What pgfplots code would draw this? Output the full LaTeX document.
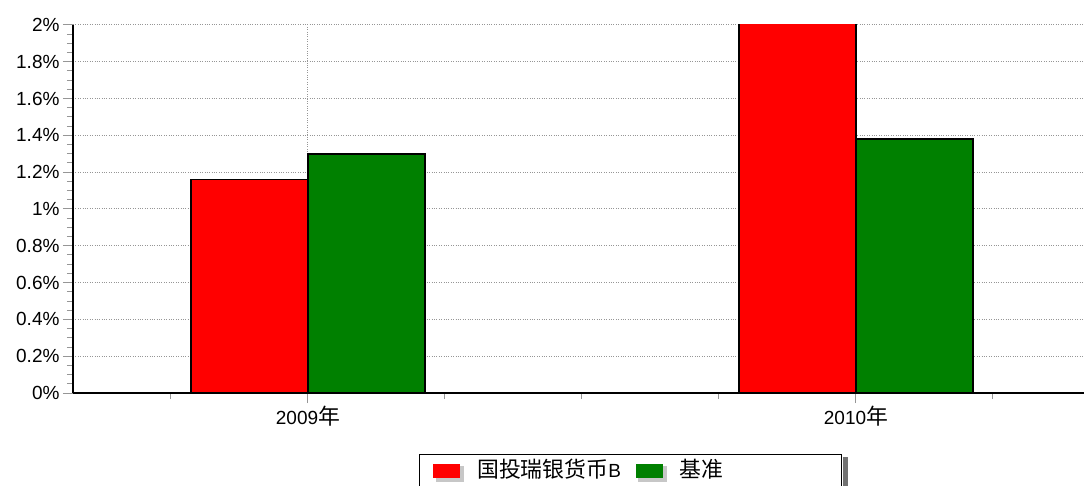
\documentclass[border=0pt]{standalone}
\usepackage{fontspec}
\setmainfont{Liberation Sans}
\newfontfamily\cjk[Scale=1.15]{Noto Sans CJK SC}
\usepackage{pgfplots}
\pgfplotsset{compat=1.18}
\definecolor{gridgray}{RGB}{150,150,150}
\definecolor{barred}{RGB}{255,0,0}
\definecolor{bargreen}{RGB}{0,128,0}
\begin{document}
\begin{tikzpicture}
\begin{axis}[
  at={(0,0)}, anchor=south west,
  scale only axis, width=1011bp, height=368bp,
  xmin=-0.4288, xmax=1.4161, ymin=0, ymax=2,
  axis x line*=bottom, axis y line*=left,
  axis line style={line width=2.8bp, black, -},
  ybar=0pt, bar width=117bp,
  xtick={0,1}, xticklabels={2009{\cjk 年},2010{\cjk 年}},
  minor xtick={-0.25,0.25,0.5,0.75,1.25},
  ytick={0,0.2,0.4,0.6,0.8,1,1.2,1.4,1.6,1.8,2},
  yticklabels={0\%,0.2\%,0.4\%,0.6\%,0.8\%,1\%,1.2\%,1.4\%,1.6\%,1.8\%,2\%},
  minor y tick num=3,
  tick align=outside,
  major tick length=10bp, minor tick length=6bp,
  tick style={gridgray, line width=1bp},
  xmajorgrids, ymajorgrids,
  major grid style={gridgray, dotted, line width=1bp},
  tick label style={font=\fontsize{19bp}{22bp}\selectfont},
  legend columns=2,
  legend style={at={(axis description cs:0.3422,-0.1658)}, anchor=north west,
    name=leg,
    draw=black, line width=1bp, fill=white,
    font=\fontsize{19bp}{22bp}\selectfont,
    inner xsep=14bp, inner ysep=4bp,
    nodes={inner sep=0pt, text height=19bp, text depth=20bp},
    column sep=13bp,
    /tikz/every even column/.append style={column sep=15bp}},
  legend image code/.code={%
    \fill[black!22] (3bp,-3bp) rectangle (30bp,11bp);
    \fill[#1, draw=none] (0bp,0bp) rectangle (27bp,14bp);},
]
\addplot[fill=barred, draw=black, line width=1.5bp] coordinates {(0,1.16) (1,2.02)};
\addlegendentry{{\cjk 国投瑞银货币}B}
\addplot[fill=bargreen, draw=black, line width=1.5bp] coordinates {(0,1.30) (1,1.38)};
\addlegendentry{\makebox[148bp][l]{\cjk 基准}}
\end{axis}
\fill[black!55] ([xshift=0.5bp,yshift=-3bp]leg.north east) rectangle ([xshift=5.5bp,yshift=-10bp]leg.south east);
\pgfresetboundingbox
\path[use as bounding box] (-73bp,-93bp) rectangle (1011bp,393bp);
\end{tikzpicture}
\end{document}
